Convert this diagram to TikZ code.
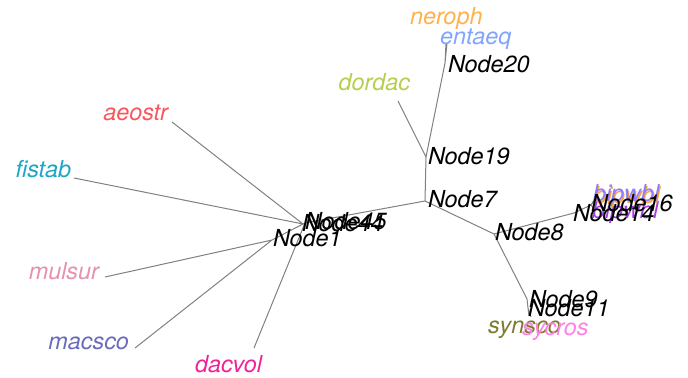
\documentclass[tikz,border=0pt]{standalone}
\usepackage{fontspec}
\setmainfont{TeX Gyre Heros}
\begin{document}
\begin{tikzpicture}[x=0.5pt,y=-0.5pt,
  edge/.style={draw=black!50,line width=0.5pt},
  lbl/.style={inner sep=0pt,outer sep=0pt,font=\fontsize{11.7}{14}\selectfont\itshape,
              text height=0.72em,text depth=0pt},
  nlab/.style={lbl,anchor=west,text=black},
  tlabR/.style={lbl,anchor=west},
  tlabL/.style={lbl,anchor=east}]
\definecolor{cneroph}{HTML}{FFB14E}
\definecolor{centaeq}{HTML}{7FA5FF}
\definecolor{cdordac}{HTML}{B4CF50}
\definecolor{caeostr}{HTML}{F9565E}
\definecolor{cfistab}{HTML}{1CA6C6}
\definecolor{cmulsur}{HTML}{E492AE}
\definecolor{cmacsco}{HTML}{6B6BBE}
\definecolor{cdacvol}{HTML}{EE2396}
\definecolor{csynsco}{HTML}{7E7B2E}
\definecolor{csycros}{HTML}{FF80E6}
\definecolor{cbipwbl}{HTML}{8C7CFF}
\definecolor{corange}{HTML}{FF9F3A}
\definecolor{cpurple}{HTML}{A33FE0}
\useasboundingbox (0,0) rectangle (688,378);

% internal nodes
\coordinate (n7)  at (425,201);
\coordinate (n19) at (426,157);
\coordinate (n20) at (445,63);
\coordinate (n8)  at (494,234);
\coordinate (n14) at (574,213);
\coordinate (n16) at (591,205);
\coordinate (n9)  at (527,299);
\coordinate (n11) at (528,308);
\coordinate (n45) at (305,223);
\coordinate (n44) at (303,224);
\coordinate (n1)  at (272,240);

% tips
\coordinate (tneroph) at (446,43);
\coordinate (tentaeq) at (447,43);
\coordinate (tdordac) at (398,101);
\coordinate (taeostr) at (172,122);
\coordinate (tfistab) at (74,178);
\coordinate (tmulsur) at (105,277);
\coordinate (tmacsco) at (135,348);
\coordinate (tdacvol) at (254,348);
\coordinate (tsynsco) at (529,316);
\coordinate (tsycros) at (531,317);
\coordinate (tbipwbl) at (594,200);
\coordinate (torange) at (595,201);
\coordinate (tpurple) at (594,209);

% branches
\draw[edge] (n7) -- (n19) (n19) -- (n20) (n20) -- (tneroph) (n20) -- (tentaeq)
  (n19) -- (tdordac)
  (n7) -- (n8) (n8) -- (n14) (n14) -- (n16) (n16) -- (tbipwbl) (n16) -- (torange) (n16) -- (tpurple)
  (n8) -- (n9) (n9) -- (n11) (n11) -- (tsynsco) (n11) -- (tsycros)
  (n7) -- (n45) (n45) -- (n44) (n44) -- (taeostr) (n44) -- (tfistab) (n45) -- (tdacvol)
  (n45) -- (n1) (n1) -- (tmulsur) (n1) -- (tmacsco);

% tip labels
\node[tlabR,text=cneroph] (lneroph) at (410,17) {neroph};
\node[tlabR,text=centaeq] (lentaeq) at (440,37) {entaeq};
\node[tlabL,text=cdordac] (ldordac) at (410,83) {dordac};
\node[tlabL,text=caeostr] (laeostr) at (168,113) {aeostr};
\node[tlabL,text=cfistab] (lfistab) at (71,170) {fistab};
\node[tlabL,text=cmulsur] (lmulsur) at (99,272) {mulsur};
\node[tlabL,text=cmacsco] (lmacsco) at (129,342) {macsco};
\node[tlabR,text=cdacvol] (ldacvol) at (195,365) {dacvol};
\node[tlabR,text=cpurple] (lpurple) at (592,211) {bipwbl};
\node[tlabR,text=corange] (lorange) at (594,196) {bipwbl};
\node[tlabR,text=cbipwbl] (lbipwbl) at (593,194) {bipwbl};
\node[tlabR,text=csynsco] (lsynsco) at (488,326) {synsco};
\node[tlabR,text=csycros] (lsycros) at (522,328) {sycros};

% internal node labels
\node[nlab] (l20) at (448,65) {Node20};
\node[nlab] (l19) at (428,157) {Node19};
\node[nlab] (l7)  at (428,200) {Node7};
\node[nlab] (l8)  at (495,233) {Node8};
\node[nlab] (l14) at (573,214) {Node14};
\node[nlab] (l16) at (591,204) {Node16};
\node[nlab] (l9)  at (529,300) {Node9};
\node[nlab] (l11) at (528,309) {Node11};
\node[nlab] (l44) at (302,224) {Node44};
\node[nlab] (l45) at (305,222) {Node45};
\node[nlab] (l1)  at (273,239) {Node1};
\end{tikzpicture}
\end{document}
